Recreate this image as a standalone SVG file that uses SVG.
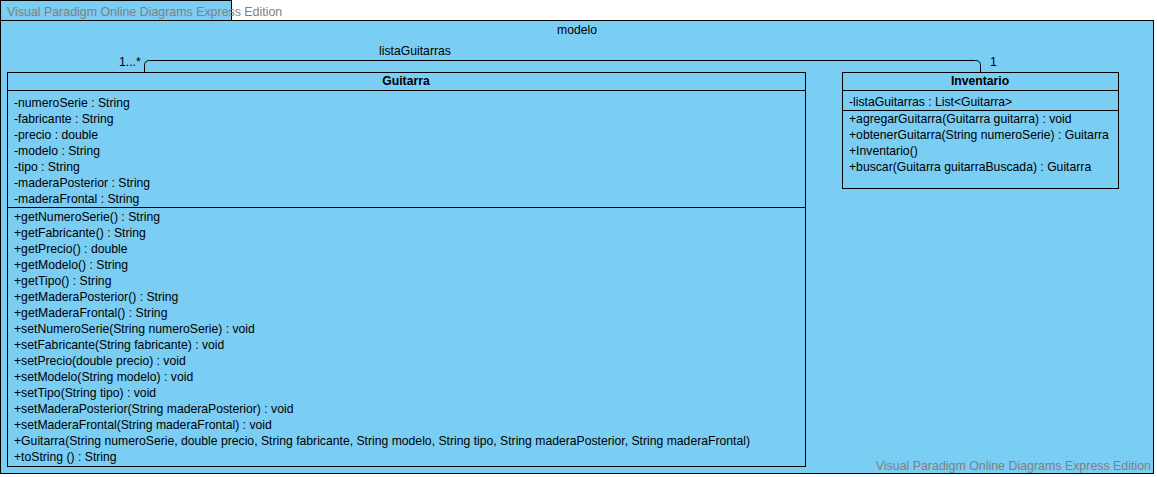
<svg xmlns="http://www.w3.org/2000/svg" width="1157" height="477" viewBox="0 0 1157 477">
<style>
.pkg{fill:#7acef4;stroke:#000;stroke-width:1}
.cls{fill:#7acef4;stroke:#000;stroke-width:1}
.ln{stroke:#000;stroke-width:1;fill:none}
text{font-family:"Liberation Sans",Arial,sans-serif;font-size:12.2px;fill:#000}
.b{font-weight:bold}
.wm{font-size:12.4px;fill:#808080}
</style>
<rect x="0" y="0" width="1157" height="477" fill="#fff"/>
<g id="modelo">
<rect class="pkg" x="0.5" y="0.5" width="231" height="20"/>
<rect class="pkg" x="0.5" y="20.5" width="1153" height="453"/>
<text x="577" y="34" text-anchor="middle">modelo</text>
</g>
<text class="wm" x="7" y="16">Visual Paradigm Online Diagrams Express Edition</text>
<g id="connectors">
<path class="ln" d="M144.5,72 V65.5 Q144.5,60.5 149.5,60.5 H975.5 Q980.5,60.5 980.5,65.5 V72"/>
<text x="415" y="55" text-anchor="middle">listaGuitarras</text>
<text x="119" y="66">1...*</text>
<text x="990" y="66">1</text>
</g>
<g id="Guitarra">
<rect class="cls" x="7.5" y="72.5" width="798" height="394"/>
<line class="ln" x1="7.5" y1="90.5" x2="805.5" y2="90.5"/>
<line class="ln" x1="7.5" y1="207.5" x2="805.5" y2="207.5"/>
<text class="b" x="406" y="85" text-anchor="middle">Guitarra</text>
<text x="14" y="107">-numeroSerie : String</text>
<text x="14" y="123">-fabricante : String</text>
<text x="14" y="139">-precio : double</text>
<text x="14" y="155">-modelo : String</text>
<text x="14" y="171">-tipo : String</text>
<text x="14" y="187">-maderaPosterior : String</text>
<text x="14" y="203">-maderaFrontal : String</text>
<text x="14" y="221">+getNumeroSerie() : String</text>
<text x="14" y="237">+getFabricante() : String</text>
<text x="14" y="253">+getPrecio() : double</text>
<text x="14" y="269">+getModelo() : String</text>
<text x="14" y="285">+getTipo() : String</text>
<text x="14" y="301">+getMaderaPosterior() : String</text>
<text x="14" y="317">+getMaderaFrontal() : String</text>
<text x="14" y="333">+setNumeroSerie(String numeroSerie) : void</text>
<text x="14" y="349">+setFabricante(String fabricante) : void</text>
<text x="14" y="365">+setPrecio(double precio) : void</text>
<text x="14" y="381">+setModelo(String modelo) : void</text>
<text x="14" y="397">+setTipo(String tipo) : void</text>
<text x="14" y="413">+setMaderaPosterior(String maderaPosterior) : void</text>
<text x="14" y="429">+setMaderaFrontal(String maderaFrontal) : void</text>
<text x="14" y="445">+Guitarra(String numeroSerie, double precio, String fabricante, String modelo, String tipo, String maderaPosterior, String maderaFrontal)</text>
<text x="14" y="461">+toString () : String</text>
</g>
<g id="Inventario">
<rect class="cls" x="842.5" y="72.5" width="276" height="116"/>
<line class="ln" x1="842.5" y1="90.5" x2="1118.5" y2="90.5"/>
<line class="ln" x1="842.5" y1="110.5" x2="1118.5" y2="110.5"/>
<text class="b" x="980" y="85" text-anchor="middle">Inventario</text>
<text x="849" y="106">-listaGuitarras : List&lt;Guitarra&gt;</text>
<text x="849" y="123">+agregarGuitarra(Guitarra guitarra) : void</text>
<text x="849" y="139">+obtenerGuitarra(String numeroSerie) : Guitarra</text>
<text x="849" y="155">+Inventario()</text>
<text x="849" y="171">+buscar(Guitarra guitarraBuscada) : Guitarra</text>
</g>
<text class="wm" x="1151" y="470" text-anchor="end">Visual Paradigm Online Diagrams Express Edition</text>
</svg>
